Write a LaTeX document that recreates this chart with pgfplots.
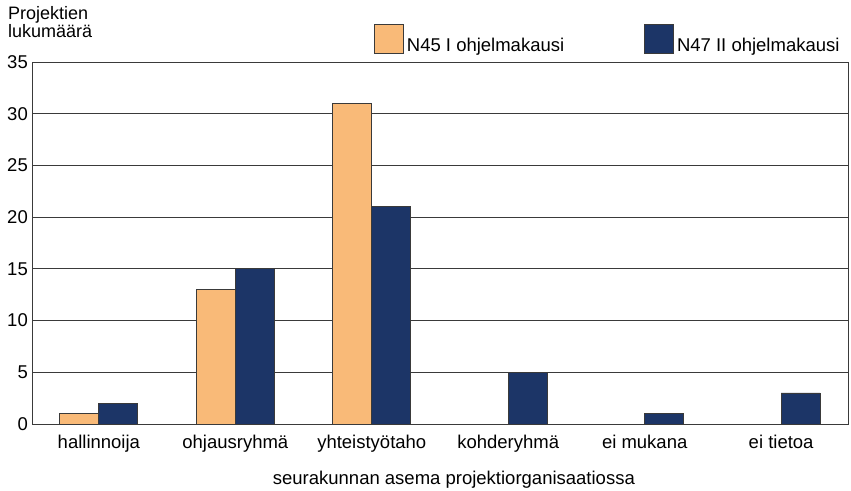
\documentclass[border=0pt]{standalone}
\usepackage{pgfplots}
\pgfplotsset{compat=1.18}
\usepackage{fontspec}
\setmainfont{Liberation Sans}
\definecolor{barorange}{HTML}{F9BA78}
\definecolor{barnavy}{HTML}{1C3567}
\definecolor{edgegray}{HTML}{3A3A3A}
\begin{document}
\fontsize{18.5}{20}\selectfont
\begin{tikzpicture}
\path[use as bounding box] (-32pt,-66pt) rectangle (819pt,424pt);
\begin{axis}[
  at={(0pt,0pt)}, anchor=south west,
  scale only axis, width=816pt, height=362pt,
  xmin=-0.49, xmax=5.49, ymin=0, ymax=35,
  ytick={0,5,...,35},
  xtick={0,1,2,3,4,5},
  xticklabels={hallinnoija,ohjausryhmä,yhteistyötaho,kohderyhmä,ei mukana,ei tietoa},
  major tick length=0pt,
  tick style={draw=none},
  ymajorgrids, major grid style={edgegray, line width=0.8pt},
  axis line style={edgegray, line width=1pt},
  /pgf/number format/assume math mode=true,
  ticklabel style={font=\fontsize{18.5}{20}\selectfont},
  yticklabel style={inner sep=0pt, xshift=-4pt},
  xticklabel style={inner sep=0pt, yshift=-11pt},
  xlabel={seurakunnan asema projektiorganisaatiossa},
  xlabel style={at={(axis description cs:0.517,-0.166)}, anchor=base, inner sep=0pt},
  ylabel={Projektien\\lukumäärä},
  ylabel style={rotate=-90, at={(axis description cs:-0.0294,1.1547)}, anchor=north west, inner sep=0pt, align=left, font=\fontsize{18}{14.5}\selectfont},
  legend columns=2,
  legend style={at={(axis description cs:0.419,1.0633)}, anchor=west, draw=none, fill=none, inner sep=0pt,
    nodes={inner sep=0pt},
    /tikz/every even column/.append style={column sep=80pt},
    /tikz/every odd column/.append style={column sep=3pt}},
  legend image code/.code={\draw[#1] (0pt,-7.5pt) rectangle (29pt,22pt);},
]
\addplot[ybar, bar width=0.286, bar shift=-0.143, fill=barorange, draw=edgegray, line width=0.8pt]
  coordinates {(0,1) (1,13) (2,31)};
\addlegendentry{N45 I ohjelmakausi}
\addplot[ybar, bar width=0.286, bar shift=0.143, fill=barnavy, draw=edgegray, line width=0.8pt]
  coordinates {(0,2) (1,15) (2,21) (3,5) (4,1) (5,3)};
\addlegendentry{N47 II ohjelmakausi}
\end{axis}
\end{tikzpicture}
\end{document}
